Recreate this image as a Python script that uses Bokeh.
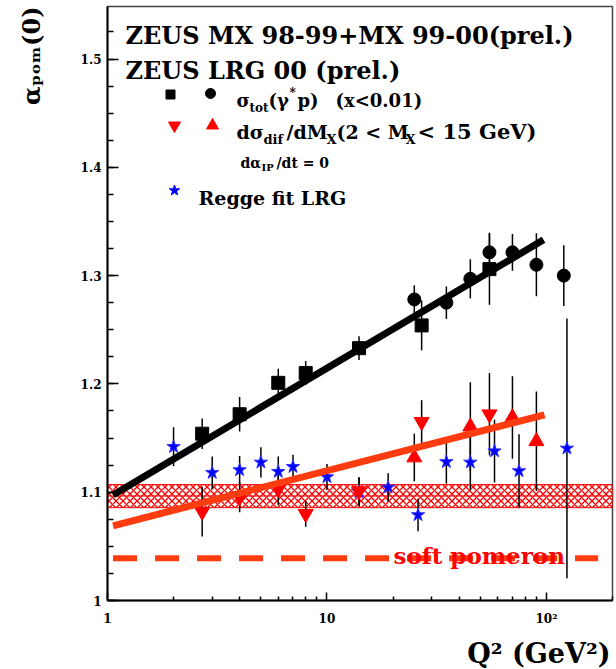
import math
from bokeh.plotting import figure
from bokeh.models import Label, FixedTicker, ColumnDataSource, Title
from bokeh.embed import file_html
from bokeh.resources import INLINE

# ---------------- data ----------------
q2_tot_9899 = [2.7, 4, 6, 8, 14, 27, 55]
a_tot_9899 = [1.154, 1.172, 1.201, 1.210, 1.233, 1.254, 1.306]
e_tot_9899 = [0.014, 0.016, 0.013, 0.011, 0.011, 0.023, 0.033]

q2_tot_9900 = [25, 35, 45, 55, 70, 90, 120]
a_tot_9900 = [1.278, 1.275, 1.297, 1.3215, 1.3215, 1.310, 1.300]
e_tot_9900 = [0.013, 0.015, 0.018, 0.018, 0.017, 0.029, 0.028]

q2_dif_9899 = [2.7, 4, 6, 8, 14, 27, 55]
a_dif_9899 = [1.082, 1.0955, 1.103, 1.080, 1.101, 1.165, 1.172]
e_dif_9899 = [0.023, 0.014, 0.015, 0.012, 0.013, 0.020, 0.038]

q2_dif_9900 = [25, 45, 70, 90]
a_dif_9900 = [1.132, 1.1605, 1.169, 1.147]
e_dif_9900 = [0.022, 0.041, 0.038, 0.046]

q2_lrg = [2, 3, 4, 5, 6, 7, 10, 14, 19, 26, 35, 45, 58, 75, 124]
a_lrg = [1.142, 1.118, 1.1205, 1.1276, 1.119, 1.1235, 1.114, 1.100, 1.1045,
         1.079, 1.128, 1.1276, 1.138, 1.1196, 1.1405]
e_lrg = [0.018, 0.015, 0.013, 0.014, 0.014, 0.011, 0.012, 0.013, 0.013,
         0.015, 0.020, 0.026, 0.029, 0.034, 0.120]

fit_tot_q2 = [1.06, 97]
fit_tot_a = [1.0975, 1.333]
fit_dif_q2 = [1.06, 98]
fit_dif_a = [1.069, 1.1715]
soft_q2 = [1.06, 172]
soft_a = [1.039, 1.039]
band_q2 = [1, 200]
band_lo = 1.0857
band_mid = 1.0965
band_hi = 1.107

x_ticks = [1, 10, 100]
x_tick_labels = ["1", "10", "10²"]
x_minor = [2, 3, 4, 5, 6, 7, 8, 9, 20, 30, 40, 50, 60, 70, 80, 90, 200]
y_ticks = [1.0, 1.1, 1.2, 1.3, 1.4, 1.5]
y_tick_labels = ["1", "1.1", "1.2", "1.3", "1.4", "1.5"]
y_minor = [1.0 + 0.025 * i for i in range(23)]

x_title = "Q² (GeV²)"
y_title = "αₚₒₘ(0)"

# ---------------- layout ----------------
W, H = 616, 669
FL, FR, FT, FB = 107, 612, 6, 600
X0, X1 = 1.0, 200.0
Y0 = 1.0
Y1 = 1.0 + (FB - FT) / 1083.0

FONT = "DejaVu Serif"
RED = "#ff0000"
ORANGE = "#ff3c0f"

p = figure(width=W, height=H, x_axis_type="log",
           x_range=(X0, X1), y_range=(Y0, Y1),
           output_backend="svg", toolbar_location=None,
           min_border_left=FL, min_border_right=W - FR,
           min_border_top=FT, min_border_bottom=H - FB)
p.background_fill_color = "white"
p.border_fill_color = "white"
p.outline_line_color = "#444444"
p.outline_line_width = 1.5
p.xgrid.visible = False
p.ygrid.visible = False


def dx(px):
    lx0, lx1 = math.log10(X0), math.log10(X1)
    return 10 ** (lx0 + (px - FL) / (FR - FL) * (lx1 - lx0))


def dy(py):
    return Y0 + (FB - py) / (FB - FT) * (Y1 - Y0)


def lab(px, py, text, size, color="black", angle=0.0):
    p.add_layout(Label(x=dx(px), y=dy(py), text=text, text_font=FONT,
                       text_font_style="bold", text_font_size=f"{size}px",
                       text_color=color, text_align="left",
                       text_baseline="alphabetic", angle=angle))


# axes
p.xaxis.ticker = FixedTicker(ticks=x_ticks, minor_ticks=x_minor)
p.xaxis.major_label_overrides = {t: s for t, s in zip(x_ticks, x_tick_labels)}
p.yaxis.ticker = FixedTicker(ticks=y_ticks, minor_ticks=y_minor)
p.yaxis.major_label_overrides = {t: s for t, s in zip(y_ticks, y_tick_labels)}
for ax in (p.xaxis, p.yaxis):
    ax.axis_line_width = 2
    ax.axis_line_color = "black"
    ax.major_tick_out = 0
    ax.minor_tick_out = 0
    ax.major_tick_line_width = 1.5
    ax.minor_tick_line_width = 1.5
    ax.major_label_text_font = FONT
    ax.major_label_text_font_style = "bold"
    ax.major_label_text_color = "black"
    # blank axis label used only as a spacer between tick labels and title
    ax.axis_label = " "
    ax.axis_label_text_font_size = "1px"
p.yaxis.major_tick_in = 11
p.yaxis.minor_tick_in = 6
p.yaxis.major_label_text_font_size = "12px"
p.yaxis.major_label_standoff = 6
p.yaxis.axis_label_standoff = 28
p.xaxis.major_tick_in = 8
p.xaxis.minor_tick_in = 4
p.xaxis.major_label_text_font_size = "12px"
p.xaxis.major_label_standoff = 11
p.xaxis.axis_label_standoff = 3

# axis titles as side-panel titles (not clipped)
p.add_layout(Title(text=y_title, align="right", offset=0, standoff=0,
                   text_font=FONT, text_font_style="bold",
                   text_font_size="24px", text_color="black"), "left")
p.add_layout(Title(text=x_title, align="right", offset=2, standoff=0,
                   text_font=FONT, text_font_style="bold",
                   text_font_size="27px", text_color="black"), "below")

# soft pomeron band
p.quad(left=[band_q2[0]], right=[band_q2[1]], bottom=[band_lo], top=[band_hi],
       fill_alpha=0, hatch_pattern="diagonal_cross", hatch_color=RED,
       hatch_scale=7, hatch_weight=1.3, line_color=RED, line_width=1)
p.line(band_q2, [band_mid, band_mid], line_color=RED, line_width=1)


def errbars(q2, a, e):
    src = ColumnDataSource(dict(x=q2, y0=[v - d for v, d in zip(a, e)],
                                y1=[v + d for v, d in zip(a, e)]))
    p.segment(x0="x", y0="y0", x1="x", y1="y1", source=src,
              line_color="black", line_width=1.5)


errbars(q2_lrg, a_lrg, e_lrg)
errbars(q2_dif_9899, a_dif_9899, e_dif_9899)
errbars(q2_dif_9900, a_dif_9900, e_dif_9900)
errbars(q2_tot_9899, a_tot_9899, e_tot_9899)
errbars(q2_tot_9900, a_tot_9900, e_tot_9900)

p.scatter(q2_lrg, a_lrg, marker="star", size=14, fill_color="blue",
          line_color="#3030ff", line_width=1)
p.scatter(q2_dif_9899, a_dif_9899, marker="inverted_triangle", size=15,
          fill_color=RED, line_color=RED)
p.scatter(q2_dif_9900, a_dif_9900, marker="triangle", size=15,
          fill_color=RED, line_color=RED)
p.scatter(q2_tot_9899, a_tot_9899, marker="square", size=13,
          fill_color="black", line_color="black")
p.scatter(q2_tot_9900, a_tot_9900, marker="circle", size=13,
          fill_color="black", line_color="black")

# fits
p.line(fit_tot_q2, fit_tot_a, line_color="black", line_width=7)
p.line(fit_dif_q2, fit_dif_a, line_color=ORANGE, line_width=7)
p.line(soft_q2, soft_a, line_color=ORANGE, line_width=6, line_dash="24 18")

# legend icons
p.scatter([dx(170)], [dy(94)], marker="square", size=9, color="black")
p.scatter([dx(210)], [dy(93)], marker="circle", size=10, color="black")
p.scatter([dx(174)], [dy(125)], marker="inverted_triangle", size=12, color=RED)
p.scatter([dx(212)], [dy(125)], marker="triangle", size=12, color=RED)
p.scatter([dx(174)], [dy(190)], marker="star", size=11, color="blue")

# titles
lab(125, 35, "ZEUS MX 98-99+MX 99-00(prel.)", 24)
lab(125, 70, "ZEUS LRG 00 (prel.)", 24)

# legend row 1
lab(236, 100, "σ", 18)
lab(249, 107, "tot", 12)
lab(268, 100, "(γ", 18)
lab(289, 92, "*", 12)
lab(297, 100, "p)", 18)
lab(335, 100, "(x<0.01)", 18)
# legend row 2
lab(236, 131, "dσ", 19)
lab(263, 139, "dif", 13)
lab(286, 131, "/dM", 19)
lab(326, 139, "X", 13)
lab(336, 131, "(2 < M", 19)
lab(405, 139, "X", 13)
lab(417, 131, "< 15 GeV)", 21)
# row 3
lab(240, 162, "dα", 14)
lab(261, 167, "IP", 10)
lab(276, 162, "/dt = 0", 14)
# row 4
lab(198, 197, "Regge fit LRG", 19)

# soft pomeron text
lab(393, 555, "soft pomeron", 23, color=RED)

open("out.html", "w").write(file_html(p, INLINE))
